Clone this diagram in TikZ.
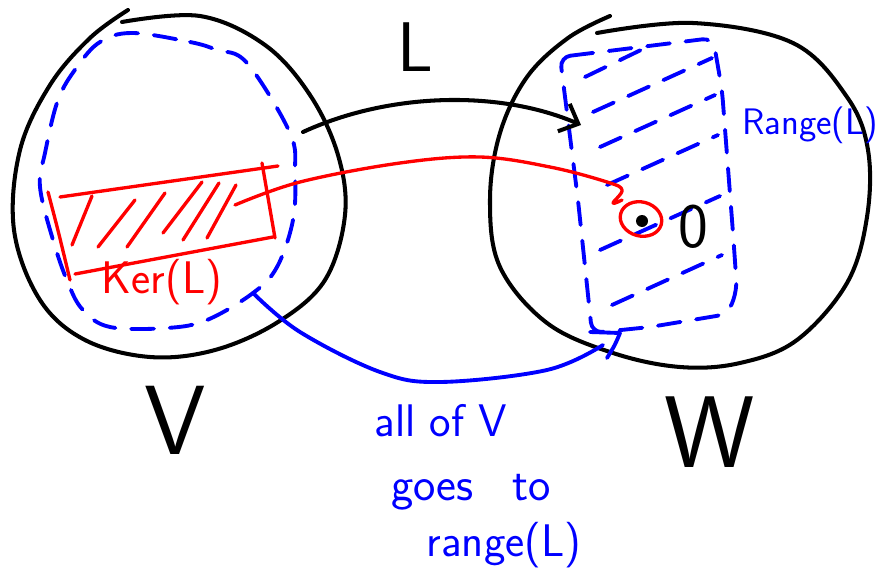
\documentclass[tikz,border=0pt]{standalone}
\usepackage{tikz}
\usetikzlibrary{arrows.meta}

\begin{document}
\begin{tikzpicture}[x=0.02cm, y=-0.02cm,
    pen/.style={line width=2.3pt, line cap=round, line join=round},
    redpen/.style={pen, red, line width=1.9pt},
    bluepen/.style={pen, blue, line width=2.2pt},
    bluedash/.style={bluepen, dash pattern=on 13pt off 9pt},
    hand/.style={font=\sffamily\fontsize{#1}{#1}\selectfont, inner sep=0pt}]

        \useasboundingbox (0,0) rectangle (876,578);

        % Draw the space V
        \draw[pen] plot[smooth, tension=0.6] coordinates {(122,22) (200,16) (265,45) (310,95) (338,155)
            (345,215) (325,280) (278,322) (215,350) (150,357) (85,340) (40,300) (14,230) (20,150)
            (50,85) (90,38) (128,10)};
        \draw[bluedash] plot[smooth cycle, tension=0.6] coordinates {(132,33) (190,42) (217,50) (247,63)
            (290,133) (295,173) (293,220) (277,267) (253,293) (207,320) (167,328) (110,327) (83,310)
            (68,283) (53,240) (40,187) (45,153) (58,100) (77,67) (100,42)};

        % Draw the space W
        \draw[pen] plot[smooth, tension=0.6] coordinates {(597,33) (693,23) (793,43) (847,97) (868,150)
            (867,217) (847,283) (797,340) (740,363) (680,367) (613,353) (547,323) (500,267) (490,200)
            (500,133) (527,77) (568,38) (610,16)};

        % Kernel box
        \draw[redpen] (60,197) -- (278,166);
        \draw[redpen] (262,163) .. controls (268,200) .. (275,238);
        \draw[redpen] (75,274) -- (273,237);
        \draw[redpen] (48,192) .. controls (58,230) .. (70,280);
        \foreach \xa/\ya/\xb/\yb in {92/196/72/245, 135/200/98/247, 165/193/127/247, 202/182/163/233,
            219/183/183/240, 236/185/207/238}
            \draw[redpen] (\xa,\ya) -- (\xb,\yb);
        \node[hand=26, text=red] (ker) at (162,282) {Ker(L)};

        % Range box
        \draw[bluedash, rounded corners=6pt] (560,57) -- (713,38) -- (722,90) -- (733,233) -- (737,290)
            -- (728,314) -- (650,327) -- (592,333) -- (578,200) -- cycle;
        \foreach \xa/\ya/\xb/\yb in {585/77/645/48, 593/112/712/58, 600/147/715/95, 607/185/718/135,
            600/250/720/196, 612/305/722/255}
            \draw[bluedash] (\xa,\ya) -- (\xb,\yb);
        \node[hand=21, text=blue] (range) at (810,125) {Range(L)};

        % Zero vector
        \draw[redpen, rotate around={-15:(641,219)}] (641,219) ellipse [x radius=21, y radius=17];
        \fill (642,221) circle [radius=6];
        \node[hand=36] (zero) at (693,227) {0};

        % The map L
        \coordinate (lstart) at (303,132);
        \coordinate (lend) at (581,125);
        \draw[pen, -{Straight Barb[length=9pt, width=17pt, line width=2.3pt]}]
            (lstart) .. controls (390,92) and (500,90) .. (lend);
        \node[hand=40] (map) at (415,47) {L};

        % Kernel goes to zero
        \coordinate (kstart) at (235,205);
        \coordinate (kend) at (622,200);
        \draw[redpen] plot[smooth, tension=0.6] coordinates {(kstart) (300,182) (400,163) (480,157)
            (550,167) (607,182) (622,190) (613,203) (kend)};

        % All of V goes to the range
        \coordinate (vstart) at (253,293);
        \coordinate (vend) at (603,345);
        \draw[bluepen] plot[smooth, tension=0.6] coordinates {(vstart) (300,332) (380,372) (440,382)
            (547,370) (vend)};
        \draw[bluepen] (590,332) -- (620,333) .. controls (615,345) .. (607,358);

        % Label the spaces
        \node[hand=56] (vlabel) at (175,420) {V};
        \node[hand=58] (wlabel) at (710,432) {W};
        \node[hand=26, text=blue] (note1) at (441,421) {all of V};
        \node[hand=27, text=blue] (note2) at (471,492) {goes\hspace{0.5em} to};
        \node[hand=26, text=blue] (note3) at (504,545) {range(L)};
\end{tikzpicture}
\end{document}
